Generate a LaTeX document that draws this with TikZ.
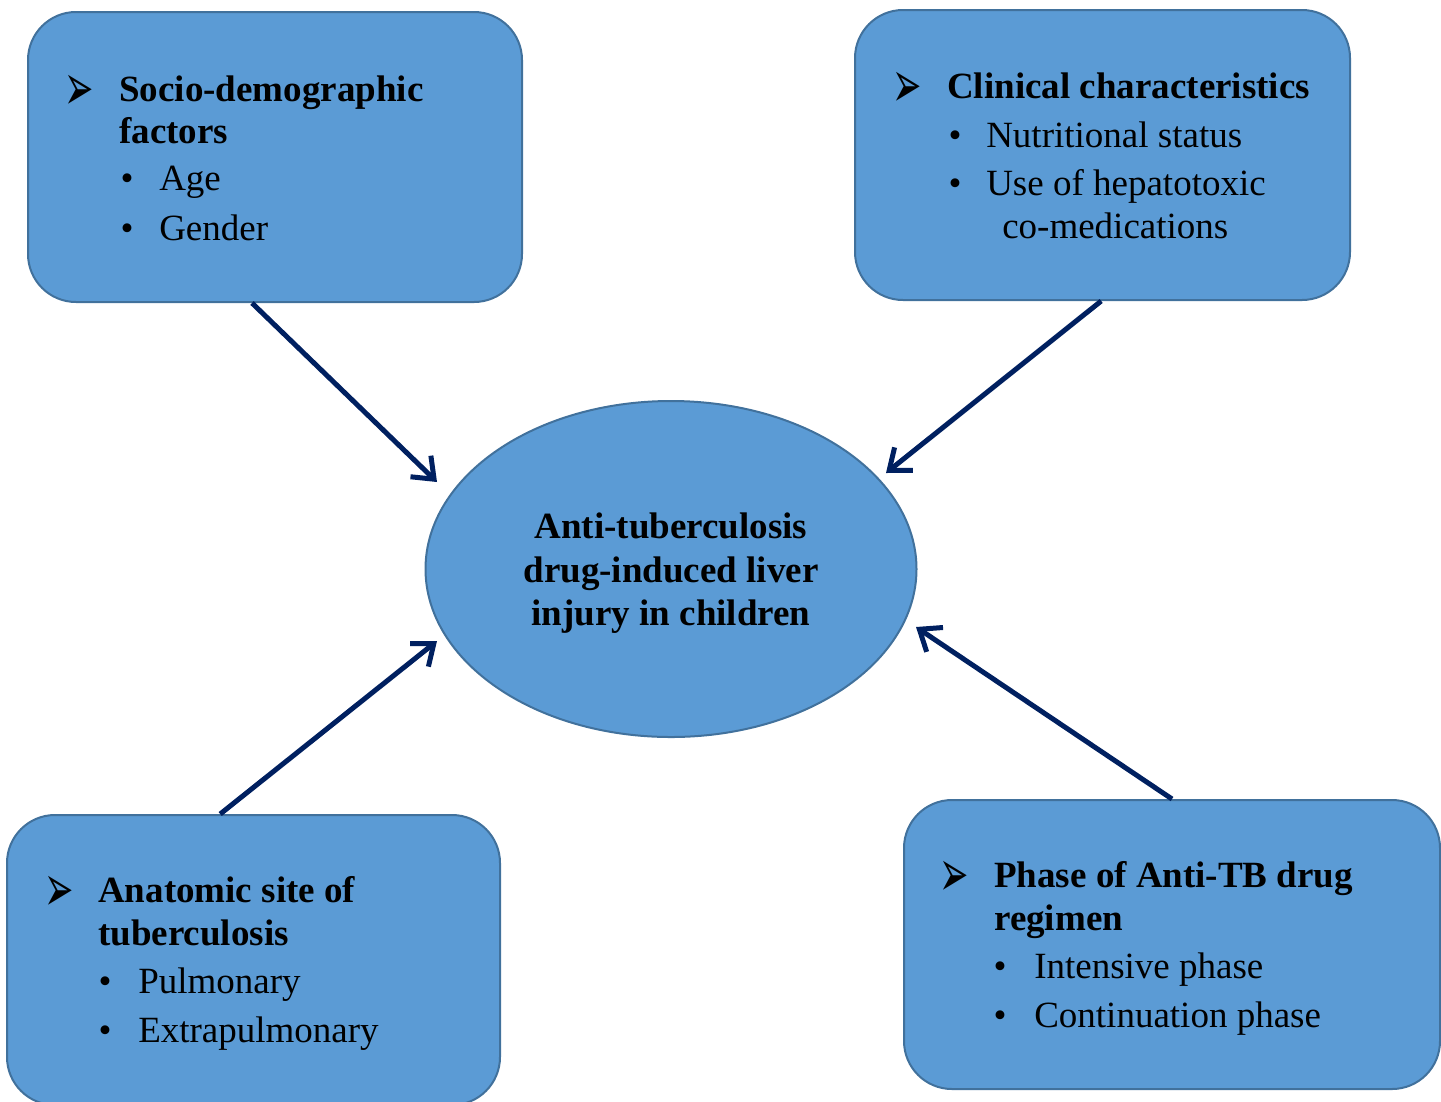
\documentclass[tikz,border=0pt]{standalone}
\usepackage{fontspec}
\setmainfont{Liberation Serif}
\newfontfamily\djv{DejaVu Sans}
\usetikzlibrary{shapes.geometric,arrows.meta}
\definecolor{boxfill}{HTML}{5B9BD5}
\definecolor{boxline}{HTML}{41719C}
\definecolor{navy}{HTML}{002060}
\newcommand{\arrowglyph}{\scalebox{0.85}[1.6]{➢}}
\begin{document}
\begin{tikzpicture}[x=0.75pt,y=-0.75pt,
  box/.style={draw=boxline,fill=boxfill,line width=1.5pt,rounded corners=36pt,inner sep=0pt},
  oval/.style={ellipse,draw=boxline,fill=boxfill,line width=1.5pt,inner sep=0pt,minimum width=368.25pt,minimum height=252pt},
  txt/.style={anchor=base west,inner sep=0pt,font=\fontsize{27.75}{32}\selectfont},
  btxt/.style={txt,font=\fontsize{27.75}{32}\selectfont\bfseries},
  ctxt/.style={anchor=base,inner sep=0pt,font=\fontsize{27.75}{32}\selectfont\bfseries},
  arrowmark/.style={anchor=base west,inner sep=0pt,font=\djv\fontsize{31}{34}\selectfont},
  bul/.style={anchor=base,inner sep=0pt,font=\fontsize{27.75}{32}\selectfont},
  arr/.style={draw=navy,line width=3.75pt,-{Straight Barb[length=14pt,width=22pt,line width=3.75pt]}}]
\useasboundingbox (0,0) rectangle (1441,1101);
% boxes
\node[box,minimum width=370.5pt,minimum height=217.5pt] (tl) at (275,157) {};
\node[box,minimum width=371.25pt,minimum height=217.5pt] (tr) at (1102.5,155) {};
\node[box,minimum width=369.75pt,minimum height=217.5pt] (bl) at (253.5,960) {};
\node[box,minimum width=402pt,minimum height=216.75pt] (br) at (1172,944.5) {};
\node[oval] (ell) at (671,569) {};
% top left text
\node[arrowmark] (m1) at (64,110) {\arrowglyph};
\node[btxt] (t1a) at (119,101) {Socio-demographic};
\node[btxt] (t1b) at (119,143) {factors};
\node[bul] (b1a) at (127,190) {•};
\node[txt] (t1c) at (159,190) {Age};
\node[bul] (b1b) at (127,240) {•};
\node[txt] (t1d) at (159,240) {Gender};
% top right text
\node[arrowmark] (m2) at (892,107) {\arrowglyph};
\node[btxt] (t2a) at (947,98) {Clinical characteristics};
\node[bul] (b2a) at (955,147) {•};
\node[txt] (t2b) at (986,147) {Nutritional status};
\node[bul] (b2b) at (955,195) {•};
\node[txt] (t2c) at (986,195) {Use of hepatotoxic};
\node[txt] (t2d) at (1002,238) {co-medications};
% bottom left text
\node[arrowmark] (m3) at (44,911) {\arrowglyph};
\node[btxt] (t3a) at (98,902) {Anatomic site of};
\node[btxt] (t3b) at (98,945) {tuberculosis};
\node[bul] (b3a) at (105,993) {•};
\node[txt] (t3c) at (138,993) {Pulmonary};
\node[bul] (b3b) at (105,1042) {•};
\node[txt] (t3d) at (138,1042) {Extrapulmonary};
% bottom right text
\node[arrowmark] (m4) at (939,896) {\arrowglyph};
\node[btxt] (t4a) at (994,887) {Phase of Anti-TB drug};
\node[btxt] (t4b) at (994,930) {regimen};
\node[bul] (b4a) at (1000,978) {•};
\node[txt] (t4c) at (1034,978) {Intensive phase};
\node[bul] (b4b) at (1000,1027) {•};
\node[txt] (t4d) at (1034,1027) {Continuation phase};
% centre text
\node[ctxt] (c1) at (671,538) {Anti-tuberculosis};
\node[ctxt] (c2) at (671,582) {drug-induced liver};
\node[ctxt] (c3) at (671,625) {injury in children};
% arrow ends
\coordinate (e1) at (437,482);
\coordinate (e2) at (886,473);
\coordinate (e3) at (437,641);
\coordinate (e4) at (916,627);
\draw[arr] ([xshift=-17.25pt]tl.south) -- (e1);
\draw[arr] ([xshift=-1pt]tr.south) -- (e2);
\draw[arr] ([xshift=-25pt]bl.north) -- (e3);
\draw[arr] (br.north) -- (e4);
\end{tikzpicture}
\end{document}
